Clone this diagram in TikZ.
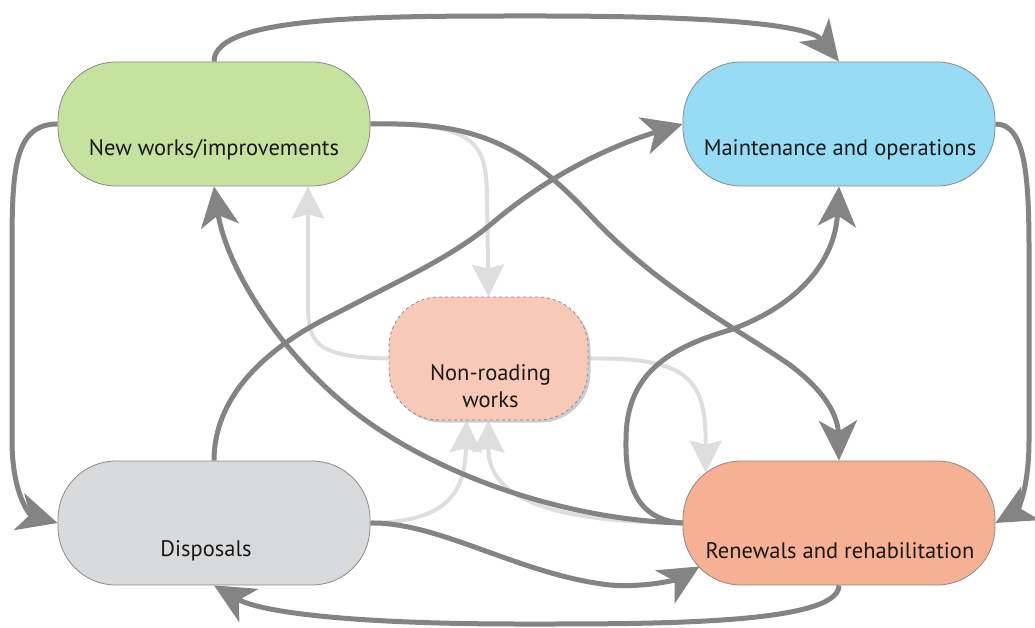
\documentclass[tikz,border=0pt]{standalone}
\usepackage{fontspec}
\setmainfont{PT Sans}
\usetikzlibrary{arrows.meta,calc,shadows,backgrounds}

\definecolor{newc}{HTML}{C6E29F}
\definecolor{mainc}{HTML}{96DCF5}
\definecolor{nonc}{HTML}{F9C9B8}
\definecolor{dispc}{HTML}{D9DADC}
\definecolor{renc}{HTML}{F6B094}
\definecolor{edgec}{HTML}{848484}
\definecolor{faintc}{HTML}{DEDEDE}
\definecolor{rimc}{HTML}{8A8A8A}

\tikzset{
  box/.style={draw=rimc, line width=0.8pt, rounded corners=58pt,
    minimum width=312pt, minimum height=124pt, inner sep=0pt},
  dashbox/.style={draw=rimc, line width=0.8pt, dashed, rounded corners=50pt,
    minimum width=199pt, minimum height=123pt, inner sep=0pt,
    drop shadow={shadow xshift=2.5pt, shadow yshift=-2.5pt, fill=black!25, opacity=0.8}},
  lbl/.style={font=\fontsize{22.5}{27}\selectfont, text=black!90, align=center, inner sep=0pt},
  flow/.style={draw=edgec, line width=5pt,
    -{Stealth[length=40pt, width=38pt, inset=11pt]}},
  side/.style={draw=faintc, line width=4pt,
    -{Stealth[length=32pt, width=32pt, inset=4pt]}}
}

\begin{document}
\begin{tikzpicture}[x=1pt, y=-1pt]
\useasboundingbox (0,0) rectangle (1035,628);

% the five stages
\node[box, fill=newc]  (nw) at (214,124) {};
\node[box, fill=mainc] (mo) at (839,124) {};
\node[box, fill=dispc] (dp) at (214,523) {};
\node[box, fill=renc]  (rr) at (839,523) {};
\node[dashbox, fill=nonc] (nr) at (488.5,358.5) {};

\node[lbl] (nwt) at ($(nw.center)+(0,26)$) {New works/improvements};
\node[lbl] (mot) at ($(mo.center)+(1,26)$) {Maintenance and operations};
\node[lbl] (dpt) at ($(dp.center)+(-8,28)$) {Disposals};
\node[lbl] (rrt) at ($(rr.center)+(1,28)$) {Renewals and rehabilitation};
\node[lbl] (nrt) at ($(nr.center)+(2,28)$) {Non-roading\\works};

% endpoints on the rounded outlines
\coordinate (nwS2) at ($(nw.south)+(94,0)$);
\coordinate (nrS1) at ($(nr.south)+(-22,0)$);
\coordinate (rrNW) at ($(rr.north west)+(23,12)$);
\coordinate (rrSW) at ($(rr.south west)+(17,-19)$);

\begin{scope}[on background layer]
% links to and from non-roading works
\draw[side] (nw.east) .. controls (475,124) and (487,140) .. (487,200) -- (nr.north);
\draw[side] (nr.west) .. controls (310,357) and (308,340) .. (308,300) -- (nwS2);
\draw[side] (nr.east) .. controls (690,357) and (706,380) .. (rrNW);
\draw[side] (dp.east) .. controls (450,522) and (465,490) .. (nrS1);
\draw[side] (rr.west) .. controls (530,522) and (488,490) .. (nr.south);

% main flows between the stages
\draw[flow] (nw.north) .. controls (214,15) and (380,16) .. (540,16)
  .. controls (720,16) and (810,25) .. (mo.north);
\draw[flow] (nw.west) .. controls (14,124) and (12,170) .. (12,250) -- (12,440)
  .. controls (12,495) and (30,515) .. (dp.west);
\draw[flow] (mo.east) .. controls (1024,124) and (1029,170) .. (1029,250) -- (1029,440)
  .. controls (1029,495) and (1015,512) .. (rr.east);
\draw[flow] (nw.east) .. controls (470,122) and (520,140) .. (590,215)
  .. controls (660,290) and (740,330) .. (790,365)
  .. controls (830,395) and (838,420) .. (rr.north);
\draw[flow] (rr.west) .. controls (560,520) and (420,470) .. (340,400)
  .. controls (270,340) and (225,260) .. (nw.south);
\draw[flow] (rr.west) .. controls (640,520) and (625,490) .. (626,440)
  .. controls (626,380) and (660,350) .. (730,330)
  .. controls (800,305) and (835,260) .. (mo.south);
\draw[flow] (dp.north) .. controls (214,400) and (260,350) .. (337,313)
  .. controls (400,280) and (450,258) .. (490,225)
  .. controls (560,165) and (630,140) .. (mo.west);
\draw[flow] (dp.east) .. controls (440,522) and (520,575) .. (610,585)
  .. controls (650,588) and (680,578) .. (rrSW);
\draw[flow] (rr.south) .. controls (839,625) and (650,624) .. (520,624)
  .. controls (350,624) and (260,612) .. (dp.south);
\end{scope}
\end{tikzpicture}
\end{document}
